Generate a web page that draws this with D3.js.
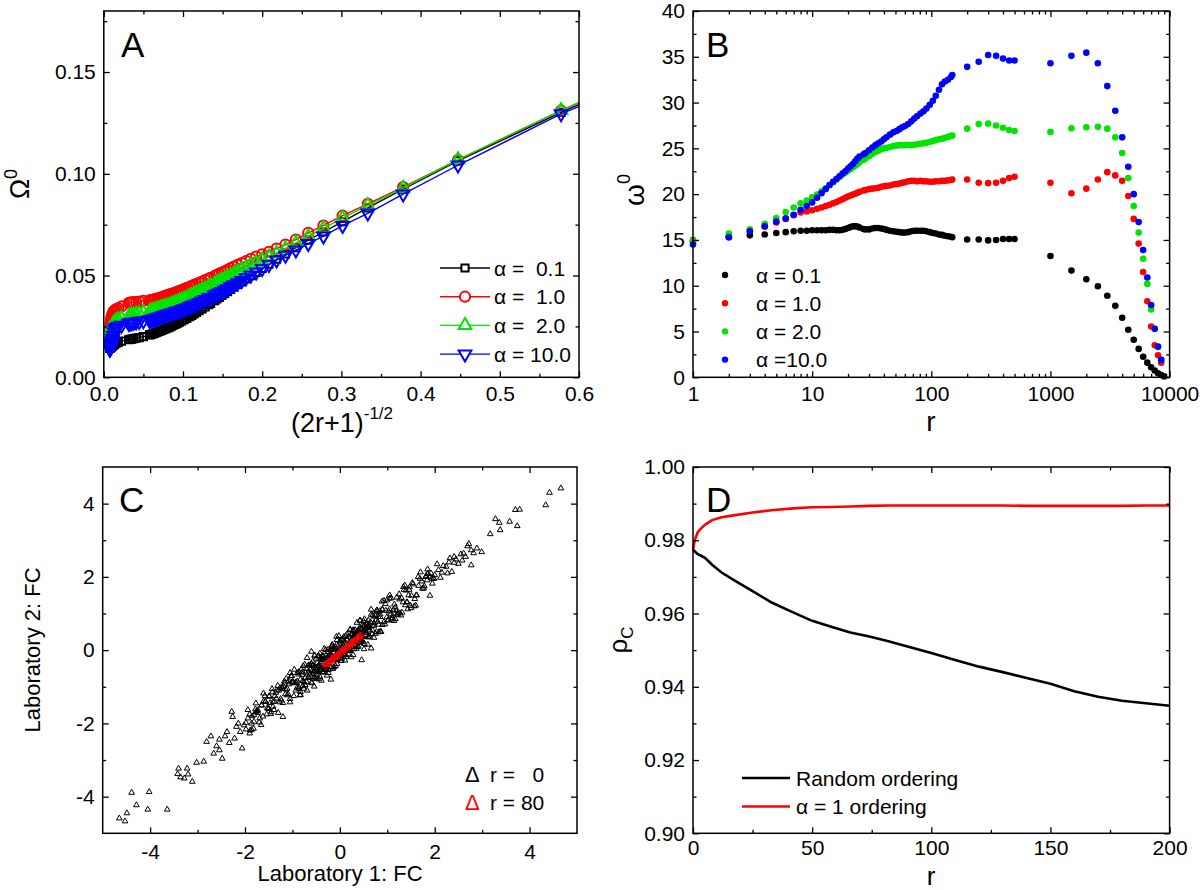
<!DOCTYPE html>
<html><head><meta charset="utf-8">
<script src="https://cdn.jsdelivr.net/npm/d3@7"></script>
<style>
body{margin:0;background:#fff;}
svg text{font-family:"Liberation Sans",Arial,Helvetica,sans-serif;fill:#000;}
</style></head><body>
<svg id="chart" width="1200" height="890"></svg>
<script>
// ---------------- DATA ----------------
// shared r values (panels A and B)
const rValues = [1,2,3,4,5,6,7,8,9,10,11,12,13,14,15,16,17,18,19,20,21,22,23,24,25,27,28,30,32,34,36,38,40,42,45,48,51,54,57,60,64,68,72,76,81,86,91,97,103,109,116,123,130,138,146,150,
  200,250,300,350,400,450,500,
  1000,1500,2000,2500,3000,3500,4000,4500,5000,5500,6000,6500,7000,7500,8000,8500,9000];
const seriesNames = ["α = 0.1","α = 1.0","α = 2.0","α =10.0"];
const legendA = ["α =  0.1","α =  1.0","α =  2.0","α = 10.0"];
const seriesColors = ["#000000","#ff0000","#00e400","#0000ff"];

// Panel B: omega^0 vs r
const omegaB01 = [14.8,15.3,15.5,15.6,15.75,15.85,15.95,16.0,16.0,16.05,16.05,16.05,16.05,16.1,16.1,16.05,16.05,16.1,16.2,16.3,16.4,16.5,16.5,16.45,16.35,16.2,16.15,16.15,16.25,16.3,16.3,16.25,16.2,16.1,16.0,15.95,15.9,15.85,15.8,15.8,15.85,15.95,16.0,16.0,16.0,16.0,15.95,15.85,15.75,15.7,15.6,15.55,15.45,15.4,15.35,15.3,
  15.05,15.05,14.95,15.0,15.1,15.1,15.1,
  13.25,11.65,10.7,9.95,8.9,7.8,6.5,5.2,4.1,3.1,2.25,1.6,1.1,0.75,0.45,0.25,0.1];
const omegaB1 = [15.0,15.4,16.0,16.45,16.9,17.3,17.7,18.0,18.1,18.25,18.4,18.55,18.7,18.85,19.0,19.15,19.3,19.45,19.6,19.75,19.85,19.95,20.05,20.15,20.25,20.4,20.45,20.55,20.6,20.65,20.7,20.8,20.85,20.9,20.95,21.05,21.1,21.15,21.25,21.3,21.4,21.45,21.45,21.4,21.45,21.4,21.4,21.35,21.35,21.4,21.4,21.45,21.45,21.5,21.55,21.6,
  21.6,21.25,21.2,21.25,21.45,21.75,21.9,
  21.25,20.1,20.6,21.6,22.4,22.05,21.45,19.8,17.3,14.6,11.5,8.3,5.55,3.5,2.4,1.6,null];
const omegaB2 = [14.9,15.7,16.15,16.75,17.4,18.05,18.55,19.0,19.3,19.65,19.95,20.3,20.65,21.0,21.3,21.6,21.9,22.15,22.35,22.55,22.75,22.95,23.1,23.3,23.5,23.75,23.9,24.15,24.4,24.6,24.75,24.9,25.0,25.05,25.15,25.25,25.3,25.35,25.35,25.35,25.4,25.35,25.4,25.45,25.5,25.55,25.6,25.7,25.8,25.9,26.0,26.05,26.15,26.25,26.35,26.4,
  27.15,27.65,27.7,27.5,27.25,27.0,26.9,
  26.8,27.2,27.3,27.35,27.15,26.2,24.5,21.75,18.7,15.8,12.95,10.2,7.4,5.3,3.3,1.9,null];
const omegaB10 = [14.5,15.3,15.95,16.5,17.0,17.35,17.75,18.3,18.7,19.1,19.6,20.1,20.55,21.0,21.35,21.65,21.95,22.25,22.5,22.8,23.05,23.3,23.6,23.9,24.1,24.35,24.5,24.8,25.1,25.35,25.55,25.75,26.0,26.2,26.5,26.75,26.9,27.1,27.3,27.45,27.65,27.95,28.25,28.5,28.8,29.05,29.35,29.75,30.2,30.75,31.4,32.0,32.3,32.5,32.8,33.0,
  33.9,34.45,35.2,35.1,34.8,34.6,34.6,
  34.3,35.1,35.45,34.3,31.8,29.1,26.2,23.0,20.0,16.95,13.9,10.9,7.9,5.3,3.35,1.9,null];

// Panel A: Omega^0 vs (2r+1)^-1/2 ; first entry is r = 0 (off-chart, x = 1)
const rA = [0].concat(rValues);
const OmegaA01 = [0.2030,0.1302,0.1063,0.0925,0.0832,0.0765,0.0714,0.0674,0.0637,0.0606,0.0580,0.0556,0.0535,0.0516,0.0499,0.0483,0.0469,0.0456,0.0443,0.0432,0.0421,0.0411,0.0402,0.0393,0.0385,0.0377,0.0363,0.0357,0.0346,0.0336,0.0327,0.0319,0.0311,0.0304,0.0298,0.0290,0.0283,0.0277,0.0271,0.0266,0.0261,0.0256,0.0251,0.0247,0.0243,0.0239,0.0235,0.0232,0.0228,0.0225,0.0222,0.0219,0.0216,0.0213,0.0211,0.0209,0.0208,
  0.0200,0.0195,0.0192,0.0190,0.0188,0.0186,0.0185,
  0.0178,0.0172,0.0168,0.0164,0.0161,0.0158,0.0156,0.0154,0.0152,0.0150,0.0149,0.0148,0.0147,0.0146,0.0145,0.0144,0.0143];
const OmegaA1 = [0.2050,0.1310,0.1068,0.0935,0.0852,0.0794,0.0746,0.0710,0.0677,0.0652,0.0632,0.0617,0.0604,0.0593,0.0582,0.0571,0.0561,0.0552,0.0544,0.0536,0.0528,0.0521,0.0515,0.0509,0.0503,0.0498,0.0489,0.0485,0.0477,0.0470,0.0464,0.0459,0.0454,0.0449,0.0445,0.0439,0.0434,0.0429,0.0425,0.0421,0.0418,0.0414,0.0410,0.0407,0.0404,0.0401,0.0398,0.0395,0.0392,0.0389,0.0387,0.0385,0.0383,0.0381,0.0379,0.0378,0.0377,
  0.0376,0.0372,0.0370,0.0369,0.0368,0.0367,0.0366,
  0.0348,0.0340,0.0335,0.0330,0.0325,0.0320,0.0312,0.0305,0.0298,0.0290,0.0280,0.0270,0.0258,0.0245,0.0232,0.0220,null];
const OmegaA2 = [0.2060,0.1312,0.1070,0.0930,0.0845,0.0782,0.0732,0.0692,0.0660,0.0633,0.0610,0.0592,0.0577,0.0563,0.0550,0.0538,0.0527,0.0517,0.0508,0.0499,0.0491,0.0484,0.0477,0.0470,0.0464,0.0458,0.0448,0.0444,0.0435,0.0427,0.0420,0.0414,0.0408,0.0402,0.0397,0.0390,0.0384,0.0378,0.0374,0.0370,0.0366,0.0362,0.0358,0.0354,0.0351,0.0348,0.0345,0.0342,0.0339,0.0336,0.0334,0.0331,0.0329,0.0327,0.0325,0.0323,0.0322,
  0.0318,0.0313,0.0309,0.0306,0.0304,0.0302,0.0300,
  0.0290,0.0283,0.0277,0.0272,0.0267,0.0262,0.0256,0.0250,0.0243,0.0236,0.0228,0.0220,0.0212,0.0204,0.0196,0.0188,null];
const OmegaA10 = [0.1970,0.1294,0.1042,0.0900,0.0806,0.0745,0.0694,0.0657,0.0625,0.0599,0.0576,0.0553,0.0534,0.0517,0.0502,0.0488,0.0475,0.0464,0.0454,0.0445,0.0436,0.0428,0.0421,0.0415,0.0409,0.0403,0.0393,0.0389,0.0381,0.0374,0.0367,0.0361,0.0356,0.0351,0.0347,0.0341,0.0336,0.0332,0.0328,0.0325,0.0322,0.0318,0.0315,0.0312,0.0309,0.0306,0.0303,0.0300,0.0297,0.0294,0.0292,0.0289,0.0287,0.0285,0.0283,0.0281,0.0280,
  0.0277,0.0274,0.0272,0.0270,0.0268,0.0266,0.0264,
  0.0255,0.0250,0.0244,0.0236,0.0222,0.0205,0.0190,0.0178,0.0168,0.0160,0.0154,0.0149,0.0145,0.0142,0.0139,0.0137,null];

// Panel C: fold changes, r = 0 (black) and r = 80 (red)
const fcLab1 = [-0.90,-0.87,-0.86,-0.83,-0.79,-0.78,-0.77,-0.73,-0.70,-0.69,-0.66,-0.64,-0.61,-0.60,-0.56,-0.53,-0.53,-0.49,-0.46,-0.44,-0.43,-0.40,-0.36,-0.36,-0.32,-0.30,-0.27,-0.26,-0.24,-0.20,-0.17,-0.16,-0.14,-0.11,-0.07,-0.06,-0.05,-0.01,0.02,0.04,0.05,0.08,0.12,0.13,0.15,0.18,0.21,0.22,0.24,0.28,0.31,0.32,0.34,0.37,0.41,0.42,0.43,0.47,0.50,0.52,0.53,0.56,0.60,0.61,0.63,0.66,0.69,0.71,0.72,0.76,0.79,0.80,0.82,0.85,0.89,0.90,
  -0.90,-0.86,-0.83,-0.83,-0.79,-0.76,-0.74,-0.73,-0.70,-0.66,-0.66,-0.62,-0.59,-0.58,-0.56,-0.53,-0.49,-0.49,-0.46,-0.42,-0.41,-0.39,-0.36,-0.33,-0.32,-0.29,-0.25,-0.24,-0.23,-0.19,-0.16,-0.15,-0.12,-0.09,-0.07,-0.06,-0.02,0.01,0.01,0.05,0.08,0.10,0.11,0.14,0.18,0.18,0.22,0.25,0.26,0.28,0.31,0.35,0.35,0.38,0.42,0.43,0.45,0.48,0.51,0.52,0.55,0.59,0.60,0.61,0.65,0.68,0.69,0.72,0.75,0.77,0.78,0.82,0.85,0.85,0.89,
  -0.93,-0.97,-1.01,-1.05,-1.09,-1.13,-1.17,-1.21,-1.25,-1.29,-1.33,-1.37,-1.41,-1.45,-1.49,-1.53,-1.57,-1.61,-1.65,-1.69,-1.73,-1.77,-1.81,-1.85,-1.89,
  0.93,0.97,1.01,1.05,1.09,1.13,1.17,1.21,1.25,1.29,1.33,1.37,1.41,1.45,1.49,1.53,1.57,1.61,1.65,1.69,1.73,1.77,1.81,1.85,1.89,
  -0.95,-0.99,-1.03,-1.07,-1.11,-1.15,-1.19,-1.23,-1.27,-1.31,-1.35,-1.39,-1.43,-1.47,-1.51,
  0.95,0.99,1.03,1.07,1.11,1.15,1.19,1.23,1.27,1.31,1.35,1.39,1.43,1.47,1.51,
  -4.65,-4.53,-4.49,-4.39,-4.29,-4.02,-4.05,-3.64,-3.40,-3.42,-3.36,-3.28,-3.22,-3.20,-3.11,-3.02,-2.87,-2.81,-2.72,-2.66,-2.60,-2.54,-2.54,-2.48,-2.42,-2.38,-2.33,-2.28,-2.26,-2.22,-2.18,-2.14,-2.10,-2.06,-2.02,-1.98,-1.94,-1.90,-1.86,-1.81,-1.77,-1.73,-1.65,-1.61,-1.57,-1.49,-1.41,
  1.85,1.84,2.00,2.08,2.24,2.32,2.36,2.41,2.41,2.61,2.69,2.77,2.77,2.89,2.99,3.17,3.28,3.36,3.38,3.58,3.70,3.74,3.79,4.34,4.42,4.66,1.95,2.05,2.12,2.18,2.27,2.45,2.50,2.55,2.58,2.65,2.72,2.82,1.92,1.98,2.15,2.30,
  1.05,0.66,0.46,-0.60,-0.19,-1.20,1.60,-1.05,
  -1.20,-1.17,-1.14,-1.11,-1.08,-1.05,-1.02,-0.99,-0.96,-0.93,-0.90,-0.87,-0.84,-0.81,-0.78,-0.75,-0.72,-0.69,-0.66,-0.63,-0.60,-0.57,-0.54,-0.51,-0.48,-0.45,-0.42,-0.39,-0.36,-0.33,-0.30,-0.27,-0.24,-0.21,-0.18,-0.15,-0.12,-0.09,-0.06,-0.03,0.00,0.03,0.06,0.09,0.12,0.15,0.18,0.21,0.24,0.27,0.30,0.33,0.36,0.39,0.42,0.45,0.48,0.51,0.54,0.57,0.60,0.63,0.66,0.69,0.72,0.75,0.78,0.81,0.84,0.87,0.90,0.93,0.96,0.99,1.02,1.05,1.08,1.11,1.14,1.17,1.20,
  1.22,1.26,1.30,1.34,1.38,1.42,1.46,1.50,1.54,1.58,1.62,1.66,1.70,1.74,1.78,1.82,1.86,1.90,1.94,1.98,
  -1.22,-1.26,-1.30,-1.34,-1.38,-1.42,-1.46,-1.50,-1.54,-1.58,-1.62,-1.66,-1.70,-1.74,-1.78,-1.82,-1.86,-1.90,-1.94,-1.98,
  -0.60,-0.58,-0.56,-0.54,-0.52,-0.50,-0.48,-0.46,-0.44,-0.42,-0.40,-0.38,-0.36,-0.34,-0.32,-0.30,-0.28,-0.26,-0.24,-0.22,-0.20,-0.18,-0.16,-0.14,-0.12,-0.10,-0.08,-0.06,-0.04,-0.02,0.00,0.02,0.04,0.06,0.08,0.10,0.12,0.14,0.16,0.18,0.20,0.22,0.24,0.26,0.28,0.30,0.32,0.34,0.36,0.38,0.40,0.42,0.44,0.46,0.48,0.50,0.52,0.54,0.56,0.58,0.60];
const fcLab2 = [-0.85,-1.05,-0.59,-1.14,-0.67,-0.84,-0.43,-0.95,-0.51,-1.10,-0.58,-0.41,-0.73,-0.88,-0.41,-0.14,-0.56,-0.68,-0.17,-0.79,-0.41,-0.23,-0.61,-0.26,-0.41,0.01,-0.42,-0.05,-0.62,-0.14,0.09,-0.18,-0.47,0.02,0.37,-0.27,-0.05,-0.12,0.26,-0.23,0.10,-0.10,0.39,-0.18,0.27,0.12,0.55,0.00,0.43,-0.13,0.39,0.55,0.22,0.09,0.56,0.81,0.40,0.28,0.79,0.17,0.55,0.73,0.35,0.71,0.54,0.97,0.54,0.92,0.34,0.82,1.05,0.78,0.49,0.98,1.33,0.69,
  -0.62,-1.01,-1.22,-0.80,-0.60,-1.05,-0.39,-0.75,-0.87,-0.41,-0.76,-0.53,-0.90,-0.43,-0.77,-0.15,-0.55,-0.75,-0.44,-0.09,-0.54,-0.83,-0.15,-0.33,-0.21,-0.53,0.02,-0.29,-0.05,-0.46,0.15,-0.27,-0.06,-0.43,0.15,-0.25,0.39,-0.07,-0.22,0.17,0.36,-0.05,-0.28,0.17,0.37,-0.11,0.57,0.23,0.09,0.53,0.21,0.44,0.04,0.53,0.21,0.81,0.39,0.22,0.53,0.85,0.42,0.15,0.81,0.61,0.76,0.44,0.96,0.67,0.93,0.50,1.09,0.70,0.91,0.51,1.11,
  -0.88,-1.25,-0.70,-1.42,-1.20,-0.78,-0.91,-1.06,-1.33,-1.10,-1.10,-1.25,-1.41,-1.69,-1.25,-1.58,-1.40,-1.40,-1.51,-1.86,-1.71,-1.68,-1.95,-1.80,-2.19,
  0.77,1.08,0.81,1.12,0.84,1.10,0.85,0.98,1.53,0.95,1.31,1.77,1.31,1.50,1.21,1.84,1.20,1.50,2.00,1.95,1.88,1.69,2.00,2.08,2.01,
  -0.90,-0.88,-0.71,-0.93,-1.23,-1.20,-0.99,-1.37,-1.42,-0.97,-1.16,-1.63,-1.06,-1.44,-1.60,
  0.71,1.36,1.06,0.98,0.88,1.25,1.08,1.02,1.01,1.03,1.65,1.63,1.12,1.72,1.49,
  -4.59,-4.67,-4.45,-3.89,-4.23,-3.87,-4.35,-4.35,-3.23,-3.38,-3.47,-3.50,-3.23,-3.39,-3.59,-3.07,-3.04,-2.50,-2.35,-2.82,-2.62,-2.44,-2.73,-2.96,-2.35,-2.23,-2.53,-1.68,-1.82,-2.41,-2.09,-2.00,-2.23,-2.68,-2.05,-2.16,-1.86,-2.27,-2.00,-1.77,-1.45,-1.64,-1.50,-1.18,-1.41,-1.27,-1.54,
  2.21,1.91,2.05,2.19,2.28,2.51,2.14,2.39,2.55,2.64,2.84,2.73,2.32,2.78,2.68,3.17,3.58,3.48,3.28,3.51,3.83,3.39,3.84,3.96,4.30,4.42,1.82,2.35,1.98,2.30,2.10,2.48,2.36,2.62,2.45,2.55,2.90,2.65,2.10,1.95,2.12,2.40,
  1.50,0.05,-0.27,-0.04,-0.80,-1.82,1.22,-0.62,
  -1.44,-0.85,-1.07,-1.05,-0.83,-1.33,-0.88,-0.86,-0.53,-1.10,-1.02,-0.66,-1.23,-0.52,-0.98,-0.88,-0.61,-0.21,-0.73,-0.66,-0.37,-0.31,-0.99,-0.49,-0.50,-0.15,-0.73,-0.49,-0.59,0.04,-0.51,-0.69,-0.54,-0.12,0.01,-0.51,-0.46,0.08,0.28,-0.03,0.24,-0.29,-0.01,0.03,-0.13,0.43,0.04,0.08,-0.19,0.44,0.42,0.12,0.75,0.10,0.62,0.58,0.37,0.03,0.61,0.60,0.37,0.37,1.11,0.67,0.74,0.45,1.09,0.91,1.07,0.50,1.11,1.35,1.26,0.90,0.83,1.41,1.42,0.94,0.80,1.17,1.44,
  0.97,1.39,1.42,1.73,1.23,1.31,1.65,1.15,1.80,1.40,1.50,1.76,2.13,1.68,1.75,2.03,2.09,1.49,1.96,1.96,
  -1.01,-1.03,-1.71,-1.32,-1.40,-1.15,-1.74,-1.59,-1.75,-1.25,-1.81,-2.04,-1.97,-1.66,-1.61,-2.14,-2.17,-1.75,-1.63,-1.98,
  -0.38,-0.56,-0.60,-0.73,-0.79,-0.23,-0.35,-0.57,-0.59,-0.46,-0.20,-0.27,-0.17,-0.26,-0.54,-0.47,-0.44,-0.20,-0.16,-0.28,-0.27,-0.18,0.13,0.04,0.03,-0.23,-0.20,-0.37,0.11,-0.03,-0.09,-0.22,0.29,0.29,0.12,-0.10,0.13,0.06,0.29,0.00,-0.02,0.20,0.28,0.45,0.55,0.03,0.19,0.45,0.51,0.42,0.20,0.31,0.25,0.38,0.70,0.67,0.68,0.48,0.48,0.64,0.67];
const fcLab1R80 = [-0.31,-0.29,-0.27,-0.25,-0.23,-0.21,-0.19,-0.17,-0.15,-0.13,-0.11,-0.09,-0.07,-0.05,-0.03,-0.01,0.01,0.03,0.05,0.07,0.09,0.11,0.13,0.15,0.17,0.19,0.21,0.23,0.25,0.27,0.29,0.31,0.33,0.35,0.37,0.39,0.41,0.43,0.45];
const fcLab2R80 = [-0.38,-0.41,-0.36,-0.39,-0.30,-0.30,-0.31,-0.22,-0.25,-0.19,-0.22,-0.16,-0.19,-0.11,-0.11,-0.12,-0.03,-0.06,0.00,-0.03,0.03,0.00,0.08,0.08,0.07,0.16,0.13,0.19,0.17,0.22,0.19,0.27,0.27,0.26,0.35,0.32,0.39,0.36,0.41];

// Panel D: concordance correlation vs r
const rD = [0,0.5,1,2,3,5,8,12,17,25,33,42,50,58,66,74,82,90,100,110,120,130,140,150,160,170,180,190,200];
const rhoRandom = [0.9773,0.9771,0.9768,0.9762,0.9759,0.9752,0.9733,0.9712,0.9692,0.9661,0.9630,0.9603,0.9580,0.9564,0.9548,0.9537,0.9524,0.9510,0.9492,0.9473,0.9455,0.9440,0.9424,0.9408,0.9388,0.9373,0.9362,0.9355,0.9348];
const rhoAlpha1 = [0.9773,0.9792,0.9805,0.9822,0.9830,0.9842,0.9855,0.9863,0.9868,0.9876,0.9882,0.9887,0.9890,0.9891,0.9892,0.9894,0.9895,0.9895,0.9895,0.9895,0.9895,0.9895,0.9894,0.9894,0.9894,0.9894,0.9894,0.9895,0.9895];
const legendD = ["Random ordering","α = 1 ordering"];

// ticks
const ticksAx = [0,0.1,0.2,0.3,0.4,0.5,0.6], minorAx = [0.05,0.15,0.25,0.35,0.45,0.55];
const ticksAy = [0,0.05,0.10,0.15], minorAy = [0.025,0.075,0.125,0.175];
const ticksBx = [1,10,100,1000,10000], minorBx = [2,3,4,5,6,7,8,9,20,30,40,50,60,70,80,90,200,300,400,500,600,700,800,900,2000,3000,4000,5000,6000,7000,8000,9000];
const ticksBy = [0,5,10,15,20,25,30,35,40], minorBy = [2.5,7.5,12.5,17.5,22.5,27.5,32.5,37.5];
const ticksC = [-4,-2,0,2,4], minorC = [-3,-1,1,3];
const ticksDx = [0,50,100,150,200], minorDx = [25,75,125,175];
const ticksDy = [0.90,0.92,0.94,0.96,0.98,1.00], minorDy = [0.91,0.93,0.95,0.97,0.99];

// ---------------- DRAWING ----------------
const svg = d3.select("#chart");
const TICKFS = 21;
const plainInt = d => String(d);   // hyphen-minus as in the reference

function axes(xS, yS, o) {
  const g = svg.append("g");
  const [xa, xb] = xS.range(), [ya, yb] = yS.range();
  const style = sel => { sel.select(".domain").remove(); sel.selectAll("line").attr("stroke","#000").attr("stroke-width",1.3);
    sel.selectAll("text").attr("font-size",TICKFS).attr("fill","#000").attr("font-family",null); };
  g.append("g").attr("transform",`translate(0,${ya})`).call(d3.axisBottom(xS).tickValues(o.xt).tickFormat(o.xf).tickSize(-6).tickPadding(o.px)).call(style);
  g.append("g").attr("transform",`translate(0,${ya})`).call(d3.axisBottom(xS).tickValues(o.xm).tickFormat("").tickSize(-3.5)).call(style);
  g.append("g").attr("transform",`translate(0,${yb})`).call(d3.axisTop(xS).tickValues(o.xt).tickFormat("").tickSize(-6)).call(style);
  g.append("g").attr("transform",`translate(0,${yb})`).call(d3.axisTop(xS).tickValues(o.xm).tickFormat("").tickSize(-3.5)).call(style);
  g.append("g").attr("transform",`translate(${xa},0)`).call(d3.axisLeft(yS).tickValues(o.yt).tickFormat(o.yf).tickSize(-6).tickPadding(o.py)).call(style);
  g.append("g").attr("transform",`translate(${xa},0)`).call(d3.axisLeft(yS).tickValues(o.ym).tickFormat("").tickSize(-3.5)).call(style);
  g.append("g").attr("transform",`translate(${xb},0)`).call(d3.axisRight(yS).tickValues(o.yt).tickFormat("").tickSize(-6)).call(style);
  g.append("g").attr("transform",`translate(${xb},0)`).call(d3.axisRight(yS).tickValues(o.ym).tickFormat("").tickSize(-3.5)).call(style);
  g.append("rect").attr("x",xa).attr("y",yb).attr("width",xb-xa).attr("height",ya-yb)
    .attr("fill","none").attr("stroke","#000").attr("stroke-width",1.5);
}
function clip(id, xS, yS) {
  const [xa, xb] = xS.range(), [ya, yb] = yS.range();
  svg.append("clipPath").attr("id",id).append("rect").attr("x",xa).attr("y",yb).attr("width",xb-xa).attr("height",ya-yb);
}
function panelLetter(t, x, y) {
  svg.append("text").attr("x",x).attr("y",y).attr("font-size",35).text(t);
}

// ===== Panel A =====
const xA = d3.scaleLinear().domain([0,0.6]).range([103.8,579]);
const yA = d3.scaleLinear().domain([0,0.18]).range([377.3,11]);
clip("clipA", xA, yA);
const symA = [
  d3.symbol().type(d3.symbolSquare).size(52),
  d3.symbol().type(d3.symbolCircle).size(82),
  d3.symbol().type(d3.symbolTriangle).size(70),
  d3.symbol().type(d3.symbolTriangle).size(70)
];
const dataA = [OmegaA01, OmegaA1, OmegaA2, OmegaA10];
const gA = svg.append("g").attr("clip-path","url(#clipA)");
dataA.forEach((vals, i) => {
  const pts = rA.map((r, k) => ({u: Math.pow(2*r+1, -0.5), v: vals[k]})).filter(d => d.v != null);
  gA.append("path").datum(pts).attr("fill","none").attr("stroke",seriesColors[i]).attr("stroke-width",1.4)
    .attr("d", d3.line().x(d => xA(d.u)).y(d => yA(d.v)));
  gA.selectAll(null).data(pts).join("path")
    .attr("transform", d => `translate(${xA(d.u)},${yA(d.v)})${i===3?" rotate(180)":""}`)
    .attr("d", symA[i]).attr("fill","none").attr("stroke",seriesColors[i]).attr("stroke-width",2);
});
axes(xA, yA, {xt:ticksAx, xm:minorAx, xf:d3.format(".1f"), yt:ticksAy, ym:minorAy, yf:d3.format(".2f"), px:9, py:8});
// legend A
legendA.forEach((t, i) => {
  const y = 268 + i*28.7;
  svg.append("line").attr("x1",440).attr("x2",490).attr("y1",y).attr("y2",y).attr("stroke",seriesColors[i]).attr("stroke-width",1.4);
  svg.append("path").attr("transform",`translate(465,${y})${i===3?" rotate(180)":""}`).attr("d",symA[i])
    .attr("fill","#fff").attr("stroke",seriesColors[i]).attr("stroke-width",2);
  svg.append("text").attr("x",494).attr("y",y+7.5).attr("font-size",21).attr("xml:space","preserve").style("white-space","pre").text(t);
});
panelLetter("A", 121, 57);
{
  const t = svg.append("text").attr("text-anchor","middle").attr("x",342).attr("y",432);
  t.append("tspan").attr("font-size",27).text("(2r+1)");
  t.append("tspan").attr("font-size",17).attr("dy",-13).text("-1/2");
  const ty = svg.append("text").attr("text-anchor","middle").attr("transform","translate(29,184) rotate(-90)");
  ty.append("tspan").attr("font-size",27).text("Ω");
  ty.append("tspan").attr("font-size",18).attr("dy",-12).text("0");
}

// ===== Panel B =====
const xB = d3.scaleLog().domain([1,10000]).range([693,1169.6]);
const yB = d3.scaleLinear().domain([0,40]).range([377.3,11]);
const dataB = [omegaB01, omegaB1, omegaB2, omegaB10];
dataB.forEach((vals, i) => {
  const pts = rValues.map((r, k) => ({r, v: vals[k]})).filter(d => d.v != null);
  svg.append("g").selectAll("circle").data(pts).join("circle")
    .attr("cx", d => xB(d.r)).attr("cy", d => yB(d.v)).attr("r",3.3).attr("fill",seriesColors[i]);
});
axes(xB, yB, {xt:ticksBx, xm:minorBx, xf:d3.format("d"), yt:ticksBy, ym:minorBy, yf:d3.format("d"), px:9, py:8});
seriesNames.forEach((t, i) => {
  const y = 275 + i*28.2;
  svg.append("circle").attr("cx",725).attr("cy",y).attr("r",3.2).attr("fill",seriesColors[i]);
  svg.append("text").attr("x",756).attr("y",y+7.5).attr("font-size",21).attr("xml:space","preserve").style("white-space","pre").text(t);
});
panelLetter("B", 706, 57);
{
  svg.append("text").attr("text-anchor","middle").attr("x",931).attr("y",431).attr("font-size",28).text("r");
  const ty = svg.append("text").attr("text-anchor","middle").attr("transform","translate(644,190) rotate(-90)");
  ty.append("tspan").attr("font-size",28).text("ω");
  ty.append("tspan").attr("font-size",18).attr("dy",-14).text("0");
}

// ===== Panel C =====
const xC = d3.scaleLinear().domain([-5,5]).range([102.7,577]);
const yC = d3.scaleLinear().domain([-5,5]).range([833.3,467]);
const triC = d3.symbol().type(d3.symbolTriangle).size(14);
const ptsC = d3.zip(fcLab1, fcLab2);
svg.append("g").selectAll("path").data(ptsC).join("path")
  .attr("transform", d => `translate(${xC(d[0])},${yC(d[1])})`).attr("d", triC)
  .attr("fill","none").attr("stroke","#000").attr("stroke-width",1.0);
const ptsR = d3.zip(fcLab1R80, fcLab2R80);
svg.append("g").selectAll("path").data(ptsR).join("path")
  .attr("transform", d => `translate(${xC(d[0])},${yC(d[1])})`).attr("d", triC)
  .attr("fill","none").attr("stroke","#ff0000").attr("stroke-width",1.0);
axes(xC, yC, {xt:ticksC, xm:minorC, xf:plainInt, yt:ticksC, ym:minorC, yf:plainInt, px:11, py:8});
panelLetter("C", 119, 512);
[["#000","   0"],["#ff0000"," 80"]].forEach((d, i) => {
  const y = 782 + i*28;
  svg.append("text").attr("x",465).attr("y",y).attr("font-size",22).style("fill",d[0]).text("Δ");
  svg.append("text").attr("x",490).attr("y",y).attr("font-size",21).attr("xml:space","preserve").style("white-space","pre").text("r =" + d[1]);
});
svg.append("text").attr("text-anchor","middle").attr("x",340).attr("y",881).attr("font-size",22).text("Laboratory 1: FC");
svg.append("text").attr("text-anchor","middle").attr("transform","translate(40,650) rotate(-90)").attr("font-size",22).text("Laboratory 2: FC");

// ===== Panel D =====
const xD = d3.scaleLinear().domain([0,200]).range([693,1169.6]);
const yD = d3.scaleLinear().domain([0.90,1.00]).range([833.3,467]);
const lineD = d3.line().x(d => xD(d[0])).y(d => yD(d[1]));
svg.append("path").datum(d3.zip(rD, rhoRandom)).attr("fill","none").attr("stroke","#000").attr("stroke-width",2.6).attr("d", lineD);
svg.append("path").datum(d3.zip(rD, rhoAlpha1)).attr("fill","none").attr("stroke","#ff0000").attr("stroke-width",2.6).attr("d", lineD);
axes(xD, yD, {xt:ticksDx, xm:minorDx, xf:d3.format("d"), yt:ticksDy, ym:minorDy, yf:d3.format(".2f"), px:7, py:8});
legendD.forEach((t, i) => {
  const y = 778 + i*28.5;
  svg.append("line").attr("x1",742).attr("x2",790).attr("y1",y).attr("y2",y).attr("stroke",i===0?"#000":"#ff0000").attr("stroke-width",2.6);
  svg.append("text").attr("x",796).attr("y",y+7.5).attr("font-size",21).text(t);
});
panelLetter("D", 706, 512);
{
  svg.append("text").attr("text-anchor","middle").attr("x",931).attr("y",885).attr("font-size",26).text("r");
  const ty = svg.append("text").attr("text-anchor","middle").attr("transform","translate(627,640) rotate(-90)");
  ty.append("tspan").attr("font-size",26).text("ρ");
  ty.append("tspan").attr("font-size",17).attr("dy",6).text("C");
}
</script>
</body></html>
